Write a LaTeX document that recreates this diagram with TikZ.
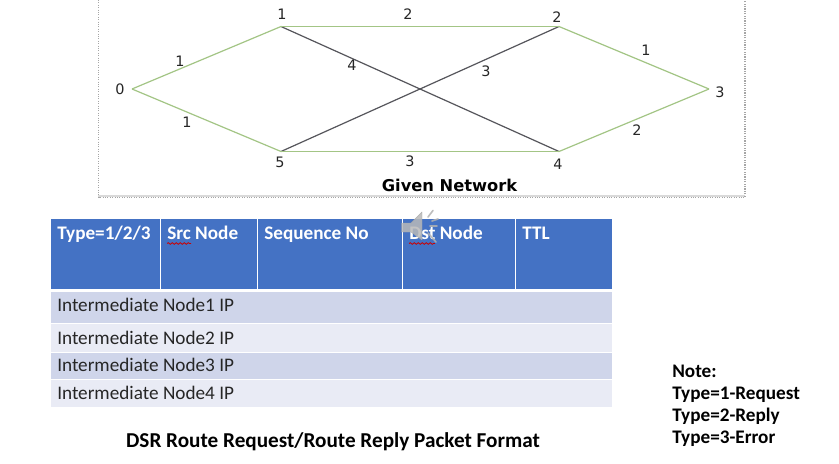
\documentclass[tikz,border=0pt]{standalone}
\usepackage{fontspec}
\setmainfont{Carlito}
\newfontfamily\netfont{DejaVu Sans}
\usetikzlibrary{decorations.pathmorphing}
\definecolor{hdrblue}{HTML}{4472C4}
\definecolor{rowdark}{HTML}{CFD5EA}
\definecolor{rowlight}{HTML}{E9EBF5}
\definecolor{linkgreen}{HTML}{A3C585}
\definecolor{linkgrey}{HTML}{55555B}
\definecolor{txtdark}{HTML}{262626}
\definecolor{boxgrey}{HTML}{A6A6A6}
\tikzset{
  x=0.75pt,y=-0.75pt,
  greenlink/.style={draw=linkgreen,line width=0.9pt},
  greylink/.style={draw=linkgrey,line width=0.9pt},
  netlabel/.style={inner sep=0pt,text=txtdark,font=\netfont\fontsize{10.8pt}{12pt}\selectfont},
  hdrcell/.style={fill=hdrblue,draw=none},
  hdrtext/.style={inner sep=0pt,anchor=base west,text=white,font=\bfseries\fontsize{14.4pt}{17pt}\selectfont},
  rowtext/.style={inner sep=0pt,anchor=base west,text=txtdark,font=\fontsize{14.4pt}{17pt}\selectfont},
  notetext/.style={inner sep=0pt,anchor=base west,text=black,font=\bfseries\fontsize{14.4pt}{17pt}\selectfont},
  squiggle/.style={draw=red!80!black,line width=0.6pt,decorate,decoration={snake,amplitude=0.6pt,segment length=3pt}},
  speaker/.style={fill=gray!55!white,draw=gray!70!white,opacity=0.85,line width=0.3pt},
  speakerwave/.style={draw=gray!60!white,line width=1.2pt,line cap=round,opacity=0.85}
}
\begin{document}
\begin{tikzpicture}
\useasboundingbox (0,0) rectangle (839,464);
\fill[white] (0,0) rectangle (839,464);
% network frame
\fill[gray!30] (98,194.5) rectangle (745,196.5);
\draw[boxgrey,densely dotted,line width=0.8pt] (98.5,0) -- (98.5,197.5) -- (745,197.5) -- (745,0);
% vertices
\coordinate (v0) at (132,89);
\coordinate (v1) at (281,26.5);
\coordinate (v2) at (559,26.5);
\coordinate (v3) at (709,89);
\coordinate (v4) at (559,151.5);
\coordinate (v5) at (281,151.5);
\draw[greylink] (v1) -- (v4);
\draw[greylink] (v5) -- (v2);
\draw[greenlink] (v0) -- (v1);
\draw[greenlink] (v0) -- (v5);
\draw[greenlink] (v1) -- (v2);
\draw[greenlink] (v5) -- (v4);
\draw[greenlink] (v2) -- (v3);
\draw[greenlink] (v4) -- (v3);
% vertex labels
\node[netlabel] (n0) at (120,89) {0};
\node[netlabel] (n1) at (282,14) {1};
\node[netlabel] (n2) at (557,17) {2};
\node[netlabel] (n3) at (720,92) {3};
\node[netlabel] (n4) at (558,164) {4};
\node[netlabel] (n5) at (280,162) {5};
% weights
\node[netlabel] (w01) at (180,61) {1};
\node[netlabel] (w05) at (187,122) {1};
\node[netlabel] (w12) at (408,14) {2};
\node[netlabel] (w14) at (352,65) {4};
\node[netlabel] (w52) at (486,71) {3};
\node[netlabel] (w53) at (410,161) {3};
\node[netlabel] (w23) at (646,50) {1};
\node[netlabel] (w43) at (637,130) {2};
\node[inner sep=0pt,text=black,font=\netfont\bfseries\fontsize{12.2pt}{14pt}\selectfont] (title) at (449.5,185) {Given Network};
% table
\fill[hdrcell] (51,219) rectangle (612,289);
\foreach \x in {160.5,257.5,402.5,515.5}{\draw[white,line width=0.75pt] (\x,219) -- (\x,289);}
\fill[rowdark] (51,292) rectangle (612,322.5);
\fill[rowlight] (51,323.5) rectangle (612,351.5);
\fill[rowdark] (51,352.5) rectangle (612,378.5);
\fill[rowlight] (51,379.5) rectangle (612,407);
\node[hdrtext] (h1) at (57,239.5) {Type=1/2/3};
\node[hdrtext] (h2) at (167,239.5) {Src Node};
\node[hdrtext] (h3) at (264,239.5) {Sequence No};
\node[hdrtext] (h4) at (409,239.5) {Dst Node};
\node[hdrtext] (h5) at (522,239.5) {TTL};
\draw[squiggle] (167,243.5) -- (191,243.5);
\draw[squiggle] (409,243.5) -- (435,243.5);
\node[rowtext] (r1) at (57,311) {Intermediate Node1 IP};
\node[rowtext] (r2) at (57,344.5) {Intermediate Node2 IP};
\node[rowtext] (r3) at (57,371.5) {Intermediate Node3 IP};
\node[rowtext] (r4) at (57,399.5) {Intermediate Node4 IP};
\node[inner sep=0pt,text=black,font=\bfseries\fontsize{15.9pt}{18pt}\selectfont] (caption) at (333,442) {DSR Route Request/Route Reply Packet Format};
% note
\node[notetext] (note1) at (672,377.5) {Note:};
\node[notetext] (note2) at (672,399.5) {Type=1-Request};
\node[notetext] (note3) at (672,421.5) {Type=2-Reply};
\node[notetext] (note4) at (672,443.5) {Type=3-Error};
% speaker icon
\fill[speaker] (401.5,223) -- (411,223) -- (422,212) -- (422,240) -- (411,232) -- (401.5,232) -- cycle;
\draw[speakerwave] (428,217) -- (433,210.5);
\draw[speakerwave] (432,221) -- (438,219);
\draw[speakerwave] (430,226) -- (437,226);
\draw[speakerwave] (428,233) -- (436,242);
\end{tikzpicture}
\end{document}
